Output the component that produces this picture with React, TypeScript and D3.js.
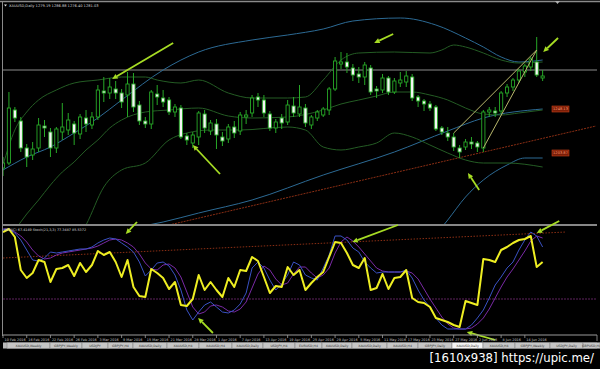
import React from "react";
import * as d3 from "d3";

// ---------- data ----------
const tickLabels = [
  "10 Feb 2016", "16 Feb 2016", "22 Feb 2016", "26 Feb 2016", "3 Mar 2016", "9 Mar 2016",
  "15 Mar 2016", "21 Mar 2016", "28 Mar 2016", "1 Apr 2016", "7 Apr 2016", "13 Apr 2016",
  "19 Apr 2016", "25 Apr 2016", "29 Apr 2016", "5 May 2016", "11 May 2016", "17 May 2016",
  "23 May 2016", "27 May 2016", "2 Jun 2016", "8 Jun 2016", "14 Jun 2016",
];

const opens = [1189,1194,1247,1236,1209,1202,1209,1231,1225,1209,1225,1227,1233,1223,1239,1232,1240,1266,1264,1268,1264,1262,1273,1252,1236,1233,1263,1259,1257,1245,1249,1221,1214,1220,1243,1226,1233,1220,1218,1230,1226,1240,1244,1260,1257,1243,1229,1239,1235,1251,1243,1249,1232,1239,1242,1247,1268,1293,1295,1289,1283,1280,1289,1268,1267,1279,1265,1274,1275,1280,1260,1256,1253,1250,1229,1224,1220,1209,1210,1215,1214,1209,1245,1246,1246,1264,1270,1277,1285,1290,1295,1279];
const highs = [1200,1265,1250,1240,1213,1215,1239,1237,1229,1230,1254,1244,1236,1243,1247,1245,1272,1280,1279,1276,1268,1285,1284,1256,1240,1267,1272,1267,1260,1253,1252,1224,1225,1246,1247,1237,1238,1225,1233,1236,1245,1247,1262,1264,1262,1246,1238,1243,1257,1260,1272,1253,1242,1247,1250,1270,1300,1305,1304,1293,1290,1295,1292,1271,1283,1281,1279,1285,1286,1283,1262,1258,1256,1252,1231,1230,1224,1212,1218,1220,1216,1247,1250,1250,1266,1273,1279,1288,1293,1300,1320,1287];
const lows = [1181,1192,1235,1205,1190,1197,1205,1220,1200,1204,1217,1222,1212,1218,1225,1228,1237,1255,1258,1258,1249,1240,1245,1232,1229,1228,1252,1250,1242,1240,1218,1212,1209,1212,1224,1222,1208,1211,1214,1219,1222,1233,1240,1250,1240,1226,1224,1228,1232,1240,1240,1230,1228,1236,1240,1242,1266,1288,1284,1276,1274,1272,1262,1259,1264,1262,1263,1270,1270,1256,1250,1246,1246,1226,1222,1216,1206,1199,1207,1208,1205,1205,1240,1240,1243,1260,1266,1274,1280,1286,1280,1276];
const closes = [1194,1249,1239,1209,1200,1208,1232,1229,1209,1228,1230,1237,1224,1240,1233,1240,1267,1264,1270,1264,1255,1273,1250,1236,1233,1265,1260,1255,1245,1250,1220,1217,1222,1244,1229,1234,1222,1216,1230,1224,1242,1242,1259,1257,1244,1229,1235,1234,1252,1244,1250,1234,1240,1245,1248,1268,1296,1295,1290,1282,1280,1292,1265,1266,1279,1265,1276,1277,1281,1259,1256,1253,1249,1228,1225,1220,1210,1205,1215,1213,1210,1245,1247,1244,1264,1270,1277,1286,1291,1298,1282,1281];

// Bollinger (20) bands at sample bars
const greenUpperBars = [0,2,4,6,9,12,16,20,24,26,30,33,38,42,48,51,54,57,60,66,72,74,76,78,81,84,87,91];
const greenUpperVals = [1192,1227,1245,1257,1267,1274,1277,1280,1280,1277,1274,1277,1264,1259,1259,1260,1277,1297,1304,1305,1304,1307,1312,1310,1304,1297,1294,1295];
const greenMidBars = [0,2,4,6,8,10,12,14,16,18,20,24,28,33,38,42,48,54,57,60,63,66,69,72,75,78,81,84,87,91];
const greenMidVals = [1112,1127,1143,1157,1172,1185,1195,1207,1217,1229,1237,1245,1247,1249,1241,1239,1240,1247,1253,1257,1261,1265,1265,1262,1257,1249,1243,1242,1244,1247];
const greenLowerBars = [10,14,17,20,24,28,31,35,40,48,51,54,57,60,63,66,69,72,75,78,81,85,91];
const greenLowerVals = [1097,1132,1170,1187,1194,1217,1224,1227,1227,1230,1227,1210,1207,1210,1214,1224,1220,1212,1204,1197,1194,1194,1190];

// long-period band (blue)
const blueUpperBars = [0,4,8,12,16,20,27,33,42,48,54,59,67,73,78,81,84,87,91];
const blueUpperVals = [1187,1200,1210,1224,1239,1257,1287,1305,1317,1322,1328,1336,1339,1332,1319,1310,1300,1295,1297];
const blueMidBars = [16,27,33,42,54,66,75,81,91];
const blueMidVals = [1124,1135,1144,1157,1182,1205,1226,1239,1248];
const blueLowerBars = [70,72,75,78,81,85,88,91];
const blueLowerVals = [1100,1115,1137,1160,1177,1192,1199,1199];
const priceLabels = ["1248.13", "1203.87"];
const priceLabelVals = [1248, 1204];

const hLinePrice = 1287;
const trendBars = [28, 100];
const trendVals = [1132, 1231];
const wedgeStartBars = [76, 81];
const wedgeStartVals = [1224, 1209];
const wedgeEndBar = 90;
const wedgeEndVal = 1307;

const mainArrowFrom = [[28.7,1314],[65.8,1323],[36.6,1183],[80.3,1167],[93.6,1319]];
const mainArrowTo = [[18.4,1278],[62.6,1314],[32.0,1212],[78.4,1184],[91.1,1305]];

// oscillator panel
const yellowLine = [97,100,92,59,51,56,69,67,47,60,61,64,53,66,57,64,78,74,77,67,52,69,42,33,32,60,56,51,40,47,24,23,30,54,39,47,39,32,51,42,59,58,72,68,52,36,43,42,62,54,59,39,46,52,57,72,87,86,76,64,61,71,39,41,55,40,51,52,59,31,27,26,22,11,9,7,4,2,28,26,24,70,69,67,79,82,86,89,90,93,62,67];
const stochMain = [99,100,96,89,79,69,68,71,77,76,77,78,79,80,80,82,86,89,91,90,86,82,77,67,53,59,66,67,63,54,39,19,9,17,24,27,22,17,16,19,25,36,61,67,61,49,39,45,54,67,64,54,51,49,61,74,93,93,89,81,77,67,61,56,57,57,57,57,59,51,39,29,22,11,4,0,0,0,0,4,11,19,31,44,52,61,67,79,89,97,93,82];
const stochSignal = [100,100,97,93,87,79,73,70,71,74,76,77,78,79,80,81,83,86,89,90,89,86,82,75,66,60,59,64,65,61,52,37,22,15,17,23,24,22,18,17,20,27,41,55,63,59,50,44,46,55,62,62,56,51,54,61,76,87,92,88,82,75,68,61,58,57,57,57,58,56,50,40,30,21,12,5,1,0,0,1,5,11,20,31,42,52,60,69,78,88,93,91];
const oscLevel = 30;
const oscTrendBars = [0, 95];
const oscTrendVals = [71, 97];
const oscArrowFrom = [[22.6,107],[66.6,104],[35.4,-4],[83.0,-11],[93.8,108]];
const oscArrowTo = [[20.7,95],[58.9,87],[32.9,11],[78.2,-3],[90.0,96]];

const tabNames = ["XAUUSD,Weekly","GBPJPY,Weekly","USDJPY","GBPJPY,H4","XAUUSD,Daily","XAUUSD,H4","XAUUSD,H4","XAUUSD,Daily","USDJPY,H4","EURUSD,H4","XAUUSD,Daily","XAUUSD,Daily","XAUUSD,H4","GBPJPY,Daily","XAUUSD,Daily","XAUUSD,H4","GBPJPY,Weekly","USDJPY,Daily","GBPUSD,H4"];
const activeTab = 14;

const titleText = "XAUUSD,Daily  1279.19 1286.88 1276.40 1281.03";
const oscTitle = "SRSI(C) 67.4149  Stoch(21,3,3) 77.3487 85.5372";
const watermark = "[1610x938] https://upic.me/";

// ---------- layout ----------
const W = 600, H = 369;
const L = 3, R = 597;
const mainTop = 3, mainBottom = 224;
const oscTop = 226, oscBottom = 334;
const tabEdges = [7, 50, 82, 108, 133, 167, 199, 232, 263, 295, 322, 352, 387, 418, 452, 483, 515, 550, 583, 600];

const GREEN = "#27a827";
const FONT = "Tahoma, 'DejaVu Sans', sans-serif";

function zip(a: number[], b: number[]): [number, number][] {
  return a.map((v, i) => [v, b[i]] as [number, number]);
}

export default function App() {
  const x = d3.scaleLinear().domain([0, 100]).range([3, 596]);
  const y = d3.scaleLinear().domain([1133, 1354]).range([mainBottom, mainTop]);
  const yo = d3.scaleLinear().domain([0, 100]).range([329, 229]);

  const mainLine = d3.line<[number, number]>().x(d => x(d[0])).y(d => y(d[1])).curve(d3.curveMonotoneX);
  const oscLine = d3.line<[number, number]>().x(d => x(d[0])).y(d => yo(d[1]));
  const idx = (arr: number[]) => arr.map((v, i) => [i, v] as [number, number]);

  const bodyW = 3.2;

  const arrow = (from: number[], to: number[], sy: (v: number) => number, key: string) => {
    const x1 = x(from[0]), y1 = sy(from[1]), x2 = x(to[0]), y2 = sy(to[1]);
    const ang = Math.atan2(y2 - y1, x2 - x1);
    const len = 5.5, half = 2.6;
    const bx = x2 - len * Math.cos(ang), by = y2 - len * Math.sin(ang);
    const p1 = [bx + half * Math.sin(ang), by - half * Math.cos(ang)];
    const p2 = [bx - half * Math.sin(ang), by + half * Math.cos(ang)];
    return (
      <g key={key}>
        <line x1={x1} y1={y1} x2={bx} y2={by} stroke="#a6dc24" strokeWidth={1.8} />
        <polygon points={`${x2},${y2} ${p1[0]},${p1[1]} ${p2[0]},${p2[1]}`} fill="#a6dc24" />
      </g>
    );
  };

  return (
    <svg width={W} height={H} style={{ position: "absolute", left: 0, top: 0, display: "block" }}>
      <defs>
        <clipPath id="mainClip"><rect x={L} y={mainTop} width={R - L} height={mainBottom - mainTop} /></clipPath>
        <clipPath id="oscClip"><rect x={L} y={oscTop} width={R - L} height={oscBottom - oscTop} /></clipPath>
      </defs>
      <rect x={0} y={0} width={W} height={H} fill="#000" />

      {/* frame */}
      <line x1={0} x2={W} y1={1.5} y2={1.5} stroke="#8a8a8a" strokeWidth={1.5} />
      <line x1={2.5} x2={2.5} y1={1.5} y2={336} stroke="#8a8a8a" strokeWidth={1} />
      <polygon points="555,1 560,1 557.5,4" fill="#b0b0b0" />

      {/* ---------- main panel ---------- */}
      <g clipPath="url(#mainClip)">
        <line x1={L} x2={R} y1={y(hLinePrice)} y2={y(hLinePrice)} stroke="#8c8c8c" strokeWidth={1} />
        {/* long band (blue) */}
        <path d={mainLine(zip(blueUpperBars, blueUpperVals)) || ""} fill="none" stroke="#2c6a94" strokeWidth={1} />
        <path d={mainLine(zip(blueMidBars, blueMidVals)) || ""} fill="none" stroke="#2c6a94" strokeWidth={1} />
        <path d={mainLine(zip(blueLowerBars, blueLowerVals)) || ""} fill="none" stroke="#2c6a94" strokeWidth={1} />
        {/* bollinger 20 (green) */}
        <path d={mainLine(zip(greenUpperBars, greenUpperVals)) || ""} fill="none" stroke="#245c24" strokeWidth={1} />
        <path d={mainLine(zip(greenMidBars, greenMidVals)) || ""} fill="none" stroke="#245c24" strokeWidth={1} />
        <path d={mainLine(zip(greenLowerBars, greenLowerVals)) || ""} fill="none" stroke="#245c24" strokeWidth={1} />
        {/* trend line */}
        <line x1={x(trendBars[0])} y1={y(trendVals[0])} x2={x(trendBars[1])} y2={y(trendVals[1])}
          stroke="#8a2e14" strokeWidth={1} strokeDasharray="2,1" />
        {/* candles */}
        {closes.map((c, i) => {
          const o = opens[i], hi = highs[i], lo = lows[i];
          const cx = x(i);
          const top = y(Math.max(o, c)), bot = y(Math.min(o, c));
          const bull = c >= o;
          return (
            <g key={i}>
              <line x1={cx} x2={cx} y1={y(hi)} y2={y(lo)} stroke={GREEN} strokeWidth={1} />
              <rect x={cx - bodyW / 2} y={top} width={bodyW} height={Math.max(0.8, bot - top)}
                fill={bull ? "#000" : "#f4f4f4"} stroke={GREEN} strokeWidth={0.9} />
            </g>
          );
        })}
        {/* wedge */}
        {wedgeStartBars.map((b, i) => (
          <line key={"w" + i} x1={x(b)} y1={y(wedgeStartVals[i])} x2={x(wedgeEndBar)} y2={y(wedgeEndVal)}
            stroke="#b9b86c" strokeWidth={1} />
        ))}
      </g>
      {priceLabelVals.map((v, i) => (
        <g key={"pl" + i}>
          <rect x={552} y={y(v) - 3} width={17} height={6} fill="#7a1e08" stroke="#c8401a" strokeWidth={0.6} />
          <text x={560.5} y={y(v) + 1.3} fontSize={3.6} fill="#ff9a70" textAnchor="middle" fontFamily={FONT}>{priceLabels[i]}</text>
        </g>
      ))}
      <polygon points="4,4.5 7,4.5 5.5,6.5" fill="#dcdcdc" />
      <text x={9} y={7} fontSize={3.6} fill="#d8d8d8" fontFamily={FONT}>{titleText}</text>
      {mainArrowFrom.map((f, i) => arrow(f, mainArrowTo[i], y, "ma" + i))}

      {/* separator */}
      <line x1={L} x2={R} y1={225} y2={225} stroke="#b4b4b4" strokeWidth={1.6} />

      {/* ---------- oscillator panel ---------- */}
      <g clipPath="url(#oscClip)">
        <line x1={L} x2={R} y1={yo(oscLevel)} y2={yo(oscLevel)} stroke="#5e225e" strokeWidth={1} strokeDasharray="2,1" />
        <line x1={x(oscTrendBars[0])} y1={yo(oscTrendVals[0])} x2={x(oscTrendBars[1])} y2={yo(oscTrendVals[1])}
          stroke="#8a2e14" strokeWidth={1} strokeDasharray="1.5,1.5" />
        <path d={oscLine(idx(stochSignal)) || ""} fill="none" stroke="#7a2aa6" strokeWidth={1} />
        <path d={oscLine(idx(stochMain)) || ""} fill="none" stroke="#3a52c4" strokeWidth={1} />
        <path d={oscLine(idx(yellowLine)) || ""} fill="none" stroke="#eeee22" strokeWidth={2} strokeLinejoin="round" />
      </g>
      <text x={4} y={231} fontSize={3.4} fill="#d8d8d8" fontFamily={FONT}>{oscTitle}</text>
      {oscArrowFrom.map((f, i) => arrow(f, oscArrowTo[i], yo, "oa" + i))}

      {/* ---------- time axis ---------- */}
      <line x1={L} x2={R} y1={335} y2={335} stroke="#9a9a9a" strokeWidth={1} />
      {tickLabels.map((t, i) => (
        <g key={"t" + i}>
          <line x1={x(i * 4)} x2={x(i * 4)} y1={335} y2={338} stroke="#9a9a9a" strokeWidth={0.8} />
          <text x={x(i * 4) + 1.5} y={340.5} fontSize={3.4} fill="#c8c8c8" fontFamily={FONT}>{t}</text>
        </g>
      ))}
      <line x1={R} x2={R} y1={335} y2={341} stroke="#9a9a9a" strokeWidth={0.8} />

      {/* ---------- tabs ---------- */}
      <rect x={L} y={342.5} width={R - L} height={6} fill="#b8b8b8" />
      {tabNames.map((n, i) => {
        const x0 = tabEdges[i], x1 = tabEdges[i + 1];
        return (
          <g key={"tab" + i}>
            <rect x={x0} y={342.5} width={x1 - x0} height={6} fill={i === activeTab ? "#f4f4f4" : "#c6c6c6"}
              stroke="#7a7a7a" strokeWidth={0.5} />
            <text x={(x0 + x1) / 2} y={346.8} fontSize={3.2} fill="#333" textAnchor="middle" fontFamily={FONT}>{n}</text>
          </g>
        );
      })}

      {/* watermark */}
      <text x={594} y={362} fontSize={13} fill="#ffffff" textAnchor="end"
        fontFamily="'Liberation Sans Narrow', 'DejaVu Sans Condensed', 'Roboto', sans-serif">{watermark}</text>
    </svg>
  );
}
